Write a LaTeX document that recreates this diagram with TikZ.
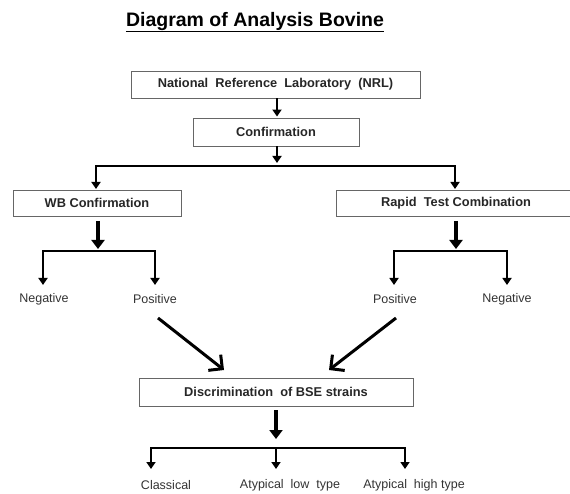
\documentclass[tikz,border=0pt]{standalone}
\usepackage{fontspec}
\setmainfont{Liberation Sans}
\usetikzlibrary{arrows.meta}
\begin{document}
\begin{tikzpicture}[x=1pt,y=-1pt,
  box/.style={draw=black!60, line width=0.9pt, inner sep=0pt, text=black!85,
    font=\fontsize{12.8}{14}\selectfont\bfseries},
  lbl/.style={font=\fontsize{12.5}{14}\selectfont, text=black!80, inner sep=0pt},
  thinarr/.style={line width=2pt, line join=miter, -{Triangle[length=7pt,width=9pt]}},
  thickarr/.style={line width=4.8pt, -{Triangle[length=9pt,width=13pt]}},
  diagarr/.style={line width=3pt, -{Straight Barb[length=10pt,width=20pt,line width=3pt]}},
  ]
\useasboundingbox (0,0) rectangle (570,494);
% title
\node[anchor=base, inner sep=0pt, font=\fontsize{19.5}{22}\selectfont\bfseries] (title) at (255,27) {Diagram of Analysis Bovine};
\draw[line width=1.6pt] (title.base west) ++(0,4.5) coordinate (ulA) (title.base east) ++(0,4.5) coordinate (ulB);
\draw[line width=1.6pt] (ulA) -- (ulB);
% boxes
\node[box, minimum width=289pt, minimum height=27pt] (nrl) at (275.5,84.5) {National\ \ Reference\ \ Laboratory\ \ (NRL)};
\node[box, minimum width=166pt, minimum height=28pt] (conf) at (276,132) {Confirmation};
\node[box, minimum width=168pt, minimum height=26pt] (wb) at (97,203) {WB Confirmation};
\node[box, minimum width=240pt, minimum height=26pt] (rapid) at (456,203) {Rapid\ \ Test\ Combination};
\node[box, minimum width=274pt, minimum height=28pt] (disc) at (276,392) {Discrimination\ \ of BSE\ strains};
% labels
\node[lbl] (neg1) at (44,299) {Negative};
\node[lbl] (pos1) at (155,299) {Positive};
\node[lbl] (pos2) at (395,299) {Positive};
\node[lbl] (neg2) at (507,299) {Negative};
\node[lbl] (clas) at (166,485) {Classical};
\node[lbl] (low) at (290,485) {Atypical\ \ low\ \ type};
\node[lbl] (high) at (414,485) {Atypical\ \ high\ type};
% coordinates
\coordinate (c1) at (277,163);
\coordinate (b1) at (277,166);
\coordinate (wbT) at (96,189);
\coordinate (rpT) at (455,189);
\coordinate (wbS) at (98,221);
\coordinate (wbE) at (98,249);
\coordinate (b2) at (98,251);
\coordinate (n1T) at (43,285);
\coordinate (p1T) at (155,285);
\coordinate (rpS) at (456,221);
\coordinate (rpE) at (456,249);
\coordinate (b3) at (456,251);
\coordinate (p2T) at (394,285);
\coordinate (n2T) at (507,285);
\coordinate (d1) at (158,318);
\coordinate (d1e) at (224,370);
\coordinate (d2) at (396,318);
\coordinate (d2e) at (329,370);
\coordinate (dS) at (276,410);
\coordinate (dE) at (276,439);
\coordinate (b4) at (276,448);
\coordinate (clT) at (151,469);
\coordinate (loT) at (276,469);
\coordinate (hiT) at (405,469);
% connectors
\draw[thinarr] (nrl.south -| 277,0) -- ([yshift=1pt]conf.north -| 277,0);
\draw[thinarr] (conf.south -| c1) -- (c1);
\draw[thinarr] (b1) -| (wbT);
\draw[thinarr] (b1) -| (rpT);
\draw[thickarr] (wbS) -- (wbE);
\draw[thinarr] (b2) -| (n1T);
\draw[thinarr] (b2) -| (p1T);
\draw[thickarr] (rpS) -- (rpE);
\draw[thinarr] (b3) -| (p2T);
\draw[thinarr] (b3) -| (n2T);
\draw[diagarr] (d1) -- (d1e);
\draw[diagarr] (d2) -- (d2e);
\draw[thickarr] (dS) -- (dE);
\draw[thinarr] (b4) -| (clT);
\draw[thinarr] (b4) -- (loT);
\draw[thinarr] (b4) -| (hiT);
\end{tikzpicture}
\end{document}
